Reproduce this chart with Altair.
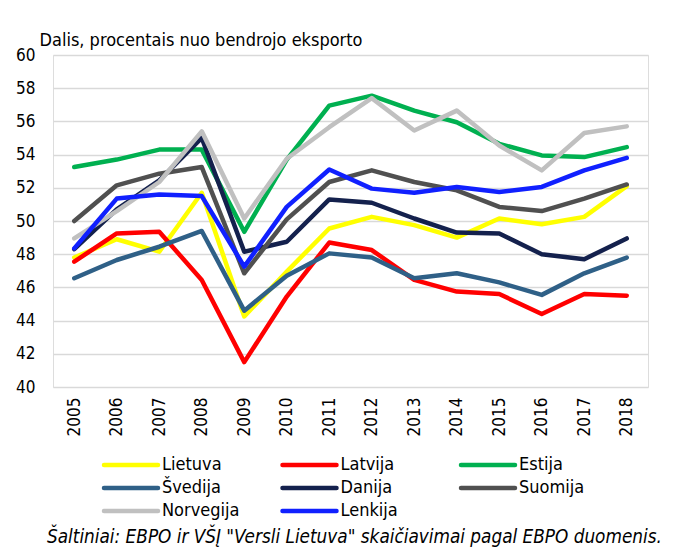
import altair as alt
import pandas as pd

years = [str(y) for y in range(2005, 2019)]

series_names = ["Lietuva", "Latvija", "Estija", "Švedija", "Danija", "Suomija", "Norvegija", "Lenkija"]
series_colors = ["#FFFF00", "#FF0000", "#00B050", "#2F6087", "#14214D", "#505050", "#C0C0C0", "#1020FF"]

lietuva = [47.8, 48.9, 48.15, 51.7, 44.25, 46.95, 49.55, 50.25, 49.75, 49.0, 50.15, 49.8, 50.25, 52.1]
latvija = [47.55, 49.25, 49.35, 46.45, 41.5, 45.45, 48.7, 48.25, 46.45, 45.75, 45.6, 44.4, 45.6, 45.5]
estija = [53.25, 53.7, 54.3, 54.3, 49.35, 53.7, 56.95, 57.55, 56.65, 55.95, 54.65, 53.95, 53.85, 54.45]
svedija = [46.55, 47.65, 48.45, 49.4, 44.6, 46.7, 48.05, 47.8, 46.55, 46.85, 46.3, 45.55, 46.85, 47.8]
danija = [48.3, 50.7, 52.45, 55.0, 48.15, 48.75, 51.3, 51.1, 50.15, 49.3, 49.25, 48.0, 47.7, 48.95]
suomija = [50.0, 52.15, 52.85, 53.25, 46.85, 50.1, 52.35, 53.05, 52.35, 51.85, 50.85, 50.6, 51.35, 52.2]
norvegija = [48.95, 50.6, 52.35, 55.4, 50.15, 53.75, 55.65, 57.4, 55.45, 56.65, 54.55, 53.05, 55.3, 55.7]
lenkija = [48.35, 51.35, 51.6, 51.5, 47.25, 50.85, 53.1, 51.95, 51.7, 52.05, 51.75, 52.05, 53.05, 53.8]

y_ticks = list(range(40, 61, 2))
y_title = "Dalis, procentais nuo bendrojo eksporto"
source_note = 'Šaltiniai:  EBPO ir VŠĮ "Versli Lietuva" skaičiavimai pagal EBPO duomenis.'

all_values = [lietuva, latvija, estija, svedija, danija, suomija, norvegija, lenkija]
rows = []
for order, (name, vals) in enumerate(zip(series_names, all_values)):
    for yr, v in zip(years, vals):
        rows.append({"Metai": yr, "Šalis": name, "Dalis": v, "ord": order})
df = pd.DataFrame(rows)

# legend layout (3 columns, rows filled left to right), in pixels relative to the plot area
LEG_X0, LEG_COL_STEP, LEG_Y0, LEG_ROW_STEP, SYM_LEN, LABEL_GAP = 51, 178.5, 410, 23, 54, 4
leg_rows = []
for i, name in enumerate(series_names):
    c, r = i % 3, i // 3
    x0 = LEG_X0 + c * LEG_COL_STEP
    leg_rows.append({"Šalis": name, "x0": x0, "x1": x0 + SYM_LEN,
                     "xt": x0 + SYM_LEN + LABEL_GAP, "yy": LEG_Y0 + r * LEG_ROW_STEP})
leg_df = pd.DataFrame(leg_rows)

FONT = "DejaVu Sans Condensed"
color_scale = alt.Scale(domain=series_names, range=series_colors)

lines = alt.Chart(df).mark_line(strokeWidth=4.5, strokeCap="round", strokeJoin="round").encode(
    x=alt.X("Metai:O", sort=years,
            scale=alt.Scale(type="point", padding=0.5),
            axis=alt.Axis(title=None, labelAngle=270, labelPadding=10, ticks=False, domain=False,
                          grid=False, labelFontSize=17, labelColor="#000000", labelFont=FONT)),
    y=alt.Y("Dalis:Q", scale=alt.Scale(domain=[40, 60], nice=False, zero=False),
            axis=alt.Axis(values=y_ticks, title=y_title, titleAngle=0, titleAlign="left",
                          titleBaseline="alphabetic", titleX=-14, titleY=-10,
                          titleFontSize=18, titleFontWeight="normal", titleColor="#000000",
                          titleFont=FONT,
                          ticks=False, domain=False, labelPadding=18, labelFontSize=17,
                          labelColor="#000000", labelFont=FONT,
                          grid=True, gridColor="#D9D9D9", gridWidth=1.5)),
    color=alt.Color("Šalis:N", sort=series_names, scale=color_scale, legend=None),
    order=alt.Order("ord:Q"),
    detail="Šalis:N",
)

leg_sym = alt.Chart(leg_df).mark_rule(strokeWidth=4.5, strokeCap="round").encode(
    x=alt.X("x0:Q", scale=None), x2="x1:Q", y=alt.Y("yy:Q", scale=None),
    color=alt.Color("Šalis:N", sort=series_names, scale=color_scale, legend=None),
)
leg_txt = alt.Chart(leg_df).mark_text(
    align="left", baseline="middle", fontSize=18, font=FONT, color="#000000"
).encode(x=alt.X("xt:Q", scale=None), y=alt.Y("yy:Q", scale=None), text="Šalis:N")

note = alt.Chart(pd.DataFrame({"t": [source_note]})).mark_text(
    align="left", baseline="middle", fontStyle="italic", fontSize=18.8, font=FONT, color="#000000"
).encode(x=alt.value(-6), y=alt.value(482), text="t:N")

chart = alt.layer(lines, leg_sym, leg_txt, note).properties(
    width=595, height=332,
    padding={"left": 45, "top": 47, "right": 20, "bottom": 160},
    autosize=alt.AutoSizeParams(type="none"),
).configure_view(stroke=None).configure(background="#FFFFFF")

chart.save("out.html", embed_options={"renderer": "svg", "actions": False})
